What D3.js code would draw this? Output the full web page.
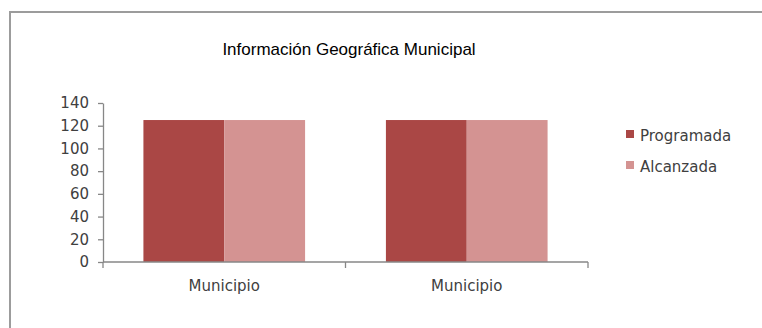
<!DOCTYPE html>
<html>
<head>
<meta charset="utf-8">
<script src="https://cdn.jsdelivr.net/npm/d3@7"></script>
<style>
  html, body { margin: 0; padding: 0; background: #fff; }
  svg { display: block; }
</style>
</head>
<body>
<script>
// Chart data
const chartTitle = "Información Geográfica Municipal";
const categories = ["Municipio", "Municipio"];
const seriesNames = ["Programada", "Alcanzada"];
const programada = [125, 125];
const alcanzada = [125, 125];
const yTicks = [0, 20, 40, 60, 80, 100, 120, 140];

const seriesValues = [programada, alcanzada];
const colors = ["#AA4745", "#D49392"];

const W = 762, H = 328;
const svg = d3.select("body").append("svg")
  .attr("width", W).attr("height", H);

// Outer chart frame (right and bottom edges run past the canvas)
svg.append("rect")
  .attr("x", 10).attr("y", 12)
  .attr("width", 800).attr("height", 400)
  .attr("fill", "#fff")
  .attr("stroke", "#9c9c9c")
  .attr("stroke-width", 2);

const plot = { left: 103, right: 588, top: 103, bottom: 262 };

const x0 = d3.scaleBand()
  .domain(categories.map((d, i) => i))
  .range([plot.left, plot.right])
  .padding(0);

const x1 = d3.scaleBand()
  .domain(seriesNames)
  .range([0, x0.bandwidth()])
  .paddingInner(0)
  .paddingOuter(0.5);

const y = d3.scaleLinear()
  .domain([0, 140])
  .range([plot.bottom, plot.top]);

const axisFont = "'DejaVu Sans', sans-serif";
const axisColor = "#878787";
const textColor = "#404040";

// Bars
const groups = svg.append("g").selectAll("g")
  .data(categories.map((c, i) => i))
  .join("g")
  .attr("transform", i => `translate(${x0(i)},0)`);

groups.selectAll("rect")
  .data(i => seriesNames.map((s, k) => ({ s, k, v: seriesValues[k][i] })))
  .join("rect")
  .attr("x", d => x1(d.s))
  .attr("width", x1.bandwidth())
  .attr("y", d => y(d.v))
  .attr("height", d => y(0) - y(d.v))
  .attr("fill", d => colors[d.k]);

// Y axis
const yAxis = svg.append("g")
  .attr("transform", `translate(${plot.left},0)`)
  .call(d3.axisLeft(y).tickValues(yTicks).tickSize(5).tickPadding(9).tickSizeOuter(0));
yAxis.select(".domain").attr("stroke", axisColor).attr("stroke-width", 1.3);
yAxis.selectAll(".tick line").attr("stroke", axisColor).attr("stroke-width", 1.3);
yAxis.selectAll(".tick text")
  .attr("font-family", axisFont).attr("font-size", 15)
  .attr("fill", textColor);

// X axis: ticks on group boundaries, labels centered in each group
const xAxisG = svg.append("g")
  .attr("transform", `translate(0,${plot.bottom})`);
xAxisG.append("line")
  .attr("x1", plot.left).attr("x2", plot.right)
  .attr("stroke", axisColor).attr("stroke-width", 1.3);
const boundaries = categories.map((c, i) => x0(i)).concat([plot.right]);
xAxisG.selectAll(".bt").data(boundaries).join("line")
  .attr("class", "bt")
  .attr("x1", d => d).attr("x2", d => d)
  .attr("y1", 0).attr("y2", 6)
  .attr("stroke", axisColor).attr("stroke-width", 1.3);
xAxisG.selectAll(".lbl").data(categories).join("text")
  .attr("class", "lbl")
  .attr("x", (d, i) => x0(i) + x0.bandwidth() / 2)
  .attr("y", 29)
  .attr("text-anchor", "middle")
  .attr("font-family", axisFont).attr("font-size", 15)
  .attr("fill", textColor)
  .text(d => d);

// Title
svg.append("text")
  .attr("x", 349).attr("y", 55)
  .attr("text-anchor", "middle")
  .attr("font-family", "'Liberation Sans Narrow', 'Arial Narrow', 'Liberation Sans', sans-serif")
  .attr("font-size", 17)
  .attr("fill", "#000")
  .text(chartTitle);

// Legend
const legend = svg.append("g").attr("transform", "translate(626,130)");
const items = legend.selectAll("g").data(seriesNames).join("g")
  .attr("transform", (d, i) => `translate(0,${i * 31})`);
items.append("rect")
  .attr("width", 8).attr("height", 8)
  .attr("fill", (d, i) => colors[i]);
items.append("text")
  .attr("x", 14).attr("y", 11)
  .attr("font-family", axisFont).attr("font-size", 15)
  .attr("fill", textColor)
  .text(d => d);
</script>
</body>
</html>
